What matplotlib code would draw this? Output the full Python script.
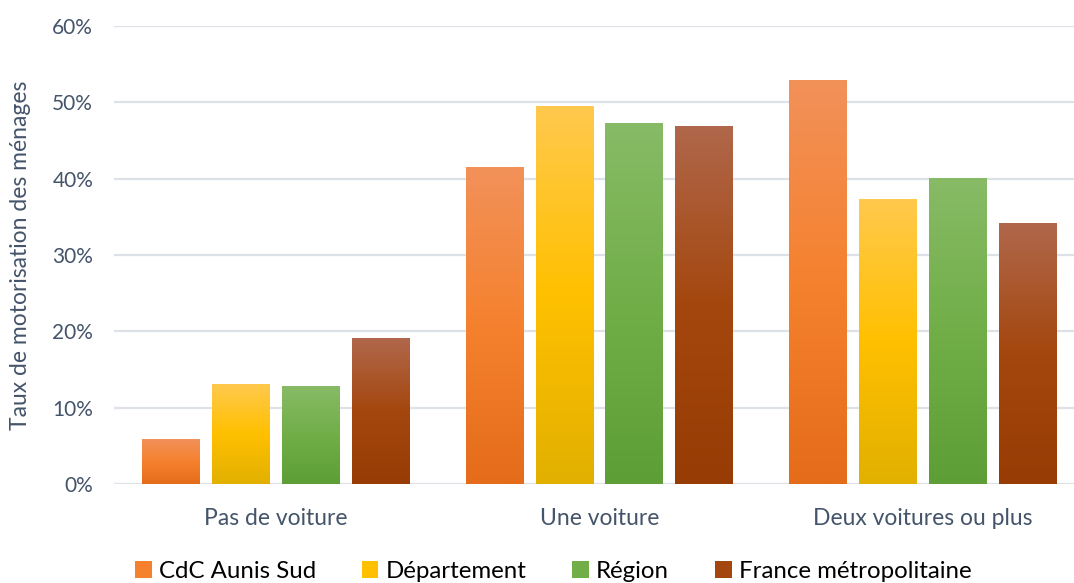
import matplotlib
matplotlib.use("Agg")
import matplotlib.pyplot as plt
import numpy as np
from matplotlib.colors import LinearSegmentedColormap
from matplotlib.patches import Patch

# ─── Données ────────────────────────────────────────────────────────────────
categories = ["Pas de voiture", "Une voiture", "Deux voitures ou plus"]
series = ["CdC Aunis Sud", "Département", "Région", "France métropolitaine"]
cdc = [5.8, 41.4, 52.9]
departement = [13.1, 49.4, 37.3]
region = [12.8, 47.2, 40.0]
france = [19.1, 46.8, 34.1]
values = [cdc, departement, region, france]

# dégradés (haut, milieu, bas)
gradients = [
    ["#F2915A", "#F5812E", "#E46C1A"],
    ["#FFC94D", "#FFC000", "#E2B000"],
    ["#87BB66", "#71AE48", "#5E9E36"],
    ["#B0674B", "#A4470E", "#963C04"],
]
mid_colors = [g[1] for g in gradients]

plt.rcParams["font.family"] = ["Lato", "DejaVu Sans"]
TICK = "#44546A"
GRID = "#DDE1E8"

fig = plt.figure(figsize=(10.74, 5.83), dpi=100)
ax = fig.add_axes([114 / 1074, 99 / 583, 960 / 1074, 458 / 583])

n = len(series)
width = 58 / 324
step = 70 / 324
x = np.arange(len(categories))
grad = np.linspace(0, 1, 256).reshape(-1, 1)

for i, (vals, cols) in enumerate(zip(values, gradients)):
    cmap = LinearSegmentedColormap.from_list(f"g{i}", [cols[2], cols[1], cols[0]])
    for xc, v in zip(x, vals):
        x0 = xc + (i - (n - 1) / 2) * step - width / 2
        ax.imshow(grad, cmap=cmap, origin="lower", aspect="auto",
                  extent=(x0, x0 + width, 0, v), zorder=3, interpolation="bilinear")

ax.set_xlim(-0.5, 2.5 - 11 / 324)
ax.set_ylim(0, 60)
ax.set_yticks(np.arange(0, 61, 10))
ax.set_yticklabels([f"{t}%" for t in range(0, 61, 10)])
ax.set_xticks(x)
ax.set_xticklabels(categories)
ax.grid(axis="y", color=GRID, linewidth=1.6, zorder=0)
ax.set_axisbelow(True)
for s in ax.spines.values():
    s.set_visible(False)
ax.tick_params(axis="y", length=0, colors=TICK, labelsize=15, pad=15)
ax.tick_params(axis="x", length=0, colors=TICK, labelsize=16.5, pad=17)
ax.set_ylabel("Taux de motorisation des ménages", color=TICK, fontsize=16.5, labelpad=15)

handles = [Patch(facecolor=c, edgecolor="none") for c in mid_colors]
fig.legend(handles, series, loc="center", bbox_to_anchor=(0.515, 0.02), ncol=4,
           frameon=False, fontsize=17.3, handlelength=0.7, handleheight=0.7,
           handletextpad=0.3, columnspacing=1.9, borderaxespad=0)

fig.savefig("out.png", dpi=100)
